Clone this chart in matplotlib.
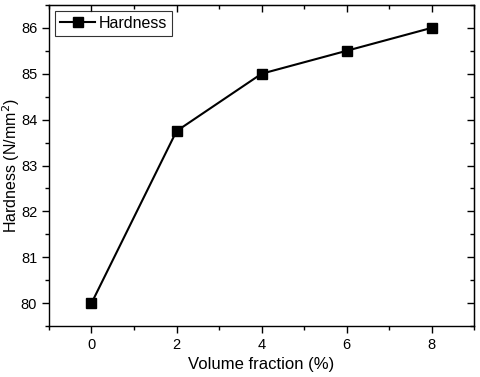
import matplotlib
matplotlib.use("Agg")
import matplotlib.pyplot as plt
from matplotlib.ticker import MultipleLocator

plt.rcParams['font.family'] = ['Liberation Sans', 'DejaVu Sans']

# datos
fraccion = [0, 2, 4, 6, 8]
dureza = [80.0, 83.75, 85.0, 85.5, 86.0]

fig = plt.figure(figsize=(4.8, 3.77), dpi=100)
ax = fig.add_axes([0.102, 0.135, 0.886, 0.852])

ax.plot(fraccion, dureza, color='black', lw=1.5, marker='s', ms=7.5,
        label='Hardness')

ax.set_xlim(-1, 9)
ax.set_ylim(79.5, 86.5)
ax.xaxis.set_major_locator(MultipleLocator(2))
ax.xaxis.set_minor_locator(MultipleLocator(1))
ax.yaxis.set_major_locator(MultipleLocator(1))
ax.yaxis.set_minor_locator(MultipleLocator(0.5))

# ticks hacia afuera abajo/izquierda, hacia adentro arriba/derecha
ax.tick_params(which='both', direction='out', labelsize=10.5, width=1)
ax.tick_params(which='major', length=5)
ax.tick_params(which='minor', length=3)
ax2 = ax.secondary_xaxis('top')
ax2.set_xticks([0, 2, 4, 6, 8])
ax2.xaxis.set_minor_locator(MultipleLocator(1))
ax2.tick_params(which='both', direction='in', labeltop=False, width=1)
ax2.tick_params(which='major', length=5)
ax2.tick_params(which='minor', length=3)
ay2 = ax.secondary_yaxis('right')
ay2.yaxis.set_major_locator(MultipleLocator(1))
ay2.yaxis.set_minor_locator(MultipleLocator(0.5))
ay2.tick_params(which='both', direction='in', labelright=False, width=1)
ay2.tick_params(which='major', length=5)
ay2.tick_params(which='minor', length=3)

for s in ax.spines.values():
    s.set_linewidth(1.0)

ax.set_xlabel('Volume fraction (%)', fontsize=12)
ax.set_ylabel('Hardness (N/mm$^2$)', fontsize=11.5)
ax.yaxis.set_label_coords(-0.064, 0.5)

leg = ax.legend(loc='upper left', fontsize=11.5, fancybox=False, edgecolor='black',
                handlelength=2.2, borderpad=0.3, borderaxespad=0.4, handletextpad=0.2)
leg.get_frame().set_linewidth(0.8)

fig.savefig('out.png', dpi=100)
